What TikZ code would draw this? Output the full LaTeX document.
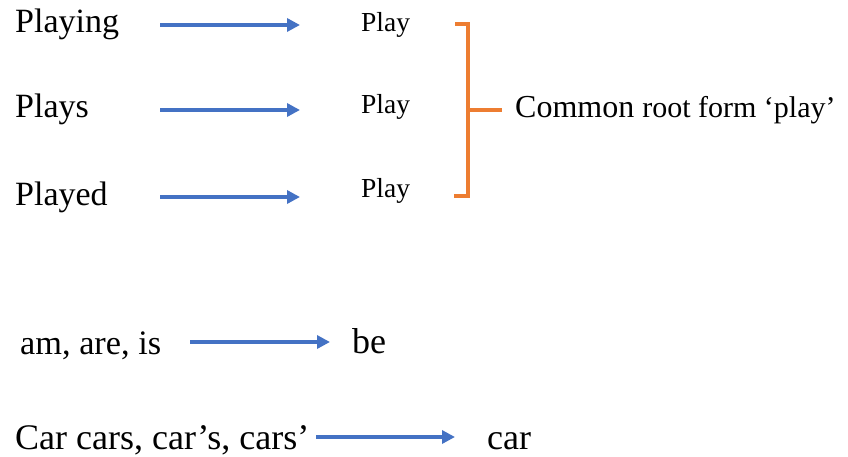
\documentclass[tikz,border=0pt]{standalone}
\usepackage{fontspec}
\setmainfont{Liberation Serif}
\usetikzlibrary{arrows.meta}

\definecolor{arrowblue}{RGB}{68,114,196}
\definecolor{braceorange}{RGB}{237,125,49}

\begin{document}
\begin{tikzpicture}[x=1pt, y=-1pt,
    word/.style={anchor=base west, inner sep=0pt, font=\fontsize{34}{40}\selectfont},
    stem/.style={anchor=base west, inner sep=0pt, font=\fontsize{27.5}{33}\selectfont},
    big/.style={anchor=base west, inner sep=0pt, font=\fontsize{36}{43}\selectfont},
    conn/.style={arrowblue, line width=3.5pt, -{Triangle[length=13pt, width=13pt]}},
    brace/.style={braceorange, line width=3.5pt, line join=miter}]
  \useasboundingbox (0,0) rectangle (848,457);

  % Inflected forms
  \node[word] (playing) at (15,33)  {Playing};
  \node[word] (plays)   at (15,118) {Plays};
  \node[word] (played)  at (15,205) {Played};

  % Stems
  \node[stem] (play1) at (361,32)  {Play};
  \node[stem] (play2) at (361,114) {Play};
  \node[stem] (play3) at (361,197) {Play};

  % Arrows
  \coordinate (t1) at (160,25);  \coordinate (h1) at (300,25);
  \coordinate (t2) at (160,110); \coordinate (h2) at (300,110);
  \coordinate (t3) at (160,197); \coordinate (h3) at (300,197);
  \draw[conn] (t1) -- (h1);
  \draw[conn] (t2) -- (h2);
  \draw[conn] (t3) -- (h3);

  % Bracket and common root
  \node[anchor=base west, inner sep=0pt] (rootlbl) at (515,118)
    {\fontsize{32}{38}\selectfont Common \fontsize{30}{36}\selectfont root form ‘play’};
  \coordinate (brtop) at (455,24);
  \coordinate (brbot) at (454,196);
  \coordinate (brmid) at (468,110);
  \draw[brace] (brtop) -- (brtop -| brmid) -- (brbot -| brmid) -- (brbot);
  \draw[brace] (brmid) -- (502,110);

  % Other examples
  \node[big, font=\fontsize{34.3}{41}\selectfont] (amareis) at (20,354) {am, are, is};
  \node[big] (be)      at (352,353) {be};
  \node[big] (carsall) at (15,449) {Car cars, car’s, cars’};
  \node[big] (car)     at (487,449) {car};

  \coordinate (t4) at (190,342); \coordinate (h4) at (330,342);
  \coordinate (t5) at (316,437); \coordinate (h5) at (455,437);
  \draw[conn] (t4) -- (h4);
  \draw[conn] (t5) -- (h5);
\end{tikzpicture}
\end{document}
